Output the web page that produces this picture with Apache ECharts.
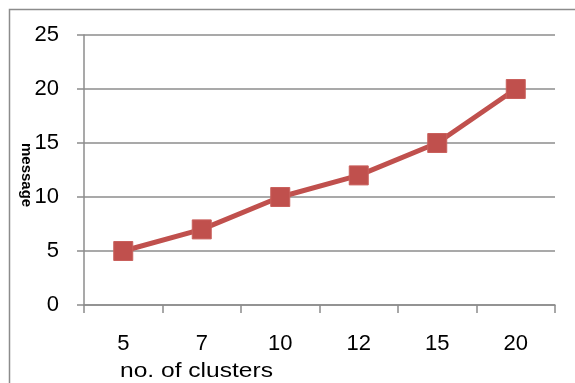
<!DOCTYPE html>
<html>
<head>
<meta charset="utf-8">
<script src="https://cdn.jsdelivr.net/npm/echarts@6/dist/echarts.min.js"></script>
<style>
  html, body { margin: 0; padding: 0; background: #fff; }
  #chart { width: 575px; height: 383px; }
</style>
</head>
<body>
<div id="chart"></div>
<script>
// Number of clusters on the x axis, messages on the y axis
const clusterCounts = ['5', '7', '10', '12', '15', '20'];
const messageValues = [5, 7, 10, 12, 15, 20];
const yTicks = { min: 0, max: 25, step: 5 };

const xTitle = 'no. of clusters';
const yTitle = 'message';

const axisGray = '#8c8c8c';
const lineRed = '#c0504d';
const labelFont = 'Liberation Sans';

const chart = echarts.init(document.getElementById('chart'), null, { renderer: 'canvas' });

chart.setOption({
  animation: false,
  backgroundColor: '#ffffff',
  grid: { left: 84, right: 20, top: 35, bottom: 78, containLabel: false },
  xAxis: {
    type: 'category',
    data: clusterCounts,
    boundaryGap: true,
    axisLine: { show: true, lineStyle: { color: axisGray, width: 1.5 } },
    axisTick: { show: true, interval: 0, length: 8, lineStyle: { color: axisGray, width: 1.5 } },
    axisLabel: { interval: 0, margin: 28, color: '#000', fontFamily: labelFont, fontSize: 22 },
    splitLine: { show: false }
  },
  yAxis: {
    type: 'value',
    min: yTicks.min,
    max: yTicks.max,
    interval: yTicks.step,
    axisLine: { show: true, lineStyle: { color: axisGray, width: 1.5 } },
    axisTick: { show: true, length: 7, lineStyle: { color: axisGray, width: 1.5 } },
    axisLabel: { margin: 25, color: '#000', fontFamily: labelFont, fontSize: 22 },
    splitLine: { show: true, lineStyle: { color: axisGray, width: 1.5 } }
  },
  series: [{
    type: 'line',
    data: messageValues,
    symbol: 'rect',
    symbolSize: 19,
    lineStyle: { color: lineRed, width: 5 },
    itemStyle: { color: lineRed, borderColor: '#c9605c', borderWidth: 1 },
    z: 5
  }],
  graphic: [
    {
      // chart frame, open towards the right and bottom edges
      type: 'rect',
      left: 7, top: 7,
      shape: { width: 620, height: 420 },
      style: { fill: 'none', stroke: axisGray, lineWidth: 1.5 },
      silent: true
    },
    {
      type: 'text',
      x: 120, y: 361,
      scaleX: 1.17,
      style: { text: xTitle, fill: '#000', font: '21px "Liberation Sans"', textVerticalAlign: 'top' }
    },
    {
      type: 'text',
      x: 34, y: 143,
      rotation: -Math.PI / 2,
      style: { text: yTitle, fill: '#000', font: 'bold 15px "Liberation Sans"', textVerticalAlign: 'top' }
    }
  ]
});
</script>
</body>
</html>
